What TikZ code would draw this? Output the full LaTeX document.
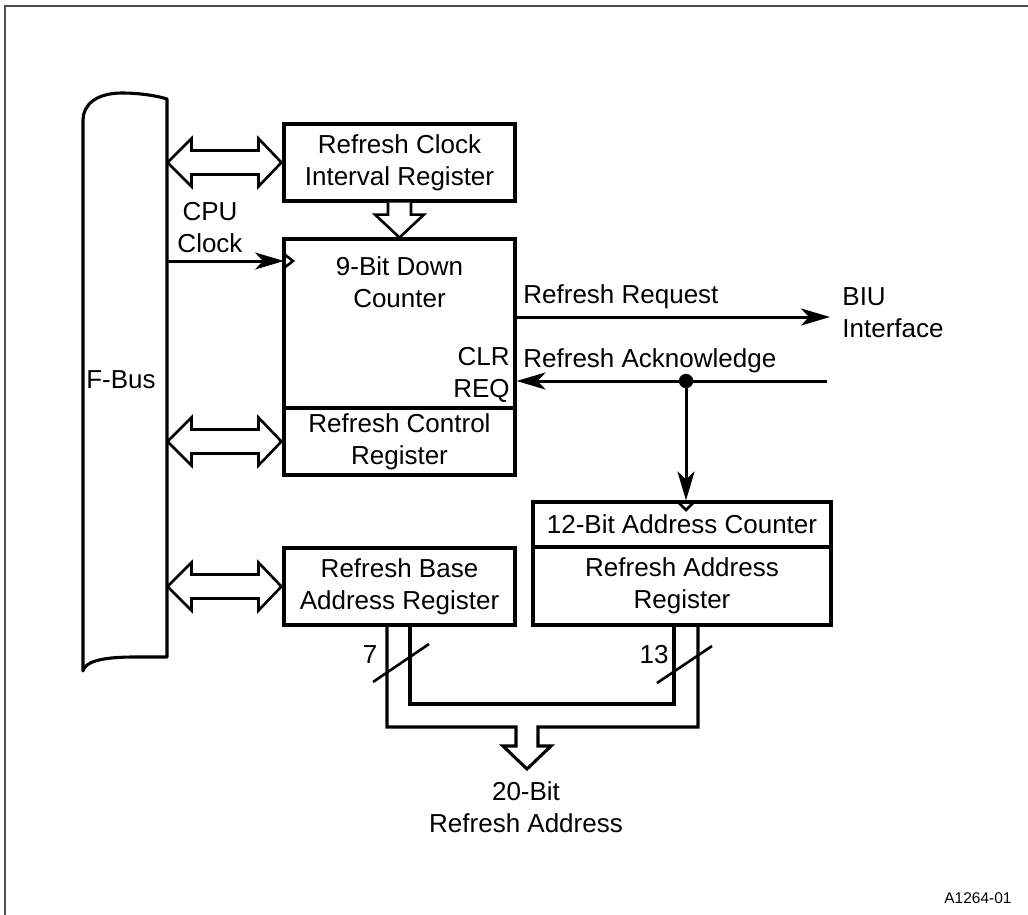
\documentclass[tikz,border=0pt]{standalone}
\usepackage{fontspec}
\setmainfont{Liberation Sans}
\usetikzlibrary{arrows.meta,calc}
\begin{document}
\begin{tikzpicture}[x=0.5pt,y=-0.5pt,
  font=\fontsize{13}{16}\selectfont,
  ln/.style={line width=1.55pt},
  box/.style={draw,line width=1.55pt,inner sep=0pt,minimum width=115.5pt},
  txt/.style={inner sep=0pt,align=center},
  hollow/.style={draw,line width=1.3pt,fill=white,line join=miter},
  arr/.style={line width=1.5pt,-{Stealth[length=14.5pt,width=8.5pt,inset=4pt]}},
  thin/.style={line width=1.3pt}]
\useasboundingbox (0,0) rectangle (1028,915);
% frame
\draw[black!70,line width=0.9pt] (5,915) -- (5,6) -- (1028,6);
% F-Bus
\draw[ln,line join=round] (167,657) -- (167,99)
  .. controls (158,96) and (140,93) .. (122,93)
  .. controls (96,93) and (83,105) .. (83,120)
  -- (83,671)
  .. controls (85,662) and (100,657) .. (135,657) -- cycle;
\node[txt] (fbus) at (121,380) {F-Bus};
\coordinate (busR) at (167,0);
% boxes
\node[box,minimum height=38.5pt] (cir) at (399.5,162.5) {};
\node[txt] (cirt) at (cir.center) {Refresh Clock\\Interval Register};
\node[box,minimum height=84.5pt] (cnt) at (399.5,323.5) {};
\node[txt] (cntt) at (399.5,282.5) {9-Bit Down\\Counter};
\node[box,minimum height=33.5pt] (ctl) at (399.5,441.5) {};
\node[txt] (ctlt) at (ctl.center) {Refresh Control\\Register};
\node[box,minimum height=38.5pt] (base) at (399.5,586.5) {};
\node[txt] (baset) at (base.center) {Refresh Base\\Address Register};
\node[box,minimum width=149pt,minimum height=22.5pt] (ac) at (682,524.5) {};
\node[txt] (act) at (ac.center) {12-Bit Address Counter};
\node[box,minimum width=149pt,minimum height=39pt] (ar) at (682,586) {};
\node[txt] (art) at (ar.center) {Refresh Address\\Register};
% hollow double arrows
\foreach \b in {cir,ctl,base}{
  \draw[hollow] ($(\b.west)+(-1,0)$) -- ++(-23,-24) -- ++(0,12) -- ++(-67,0) -- ++(0,-12)
    -- ++(-24,24) -- ++(24,24) -- ++(0,-12) -- ++(67,0) -- ++(0,12) -- cycle;
}
% hollow arrow cir -> counter
\draw[hollow] ($(cir.south)+(-11.5,0)$) -- ++(0,12) -- ++(-13,0) -- ++(24.5,23) -- ++(24.5,-23) -- ++(-13,0) -- ++(0,-12);
% CPU clock
\node[txt] (cpu) at (210,228) {CPU\\Clock};
\coordinate (clkin) at (284,261);
\draw[arr] (busR |- clkin) -- (clkin);
\draw[thin] (284,254) -- (293,261) -- (284,268);
% Refresh request
\node[txt,anchor=west,align=left] (biu) at (842,313) {BIU\\Interface};
\coordinate (reqend) at (830,317);
\draw[arr] (cnt.east |- reqend) -- (reqend);
\node[inner sep=0pt,anchor=base west] (reql) at (523,303) {Refresh Request};
% Refresh acknowledge
\coordinate (ackin) at (827,381);
\coordinate (dot) at (686,381);
\draw[arr] (ackin) -- (cnt.east |- ackin);
\node[inner sep=0pt,anchor=base west] (ackl) at (523,367) {Refresh Acknowledge};
\fill (dot) circle (3.6pt);
\draw[arr] (dot) -- (dot |- ac.north);
\draw[thin] (678,502) -- (686,510) -- (694,502);
\node[txt,align=right,anchor=east] (clr) at (510,375) {CLR\\REQ};
% bus merge
\draw[ln,line join=miter] (410,625) -- (410,704) -- (674,704) -- (674,625);
\draw[ln,line join=miter] (387,625) -- (387,727) -- (516,727) -- (516,746) -- (503,746)
  -- (527,769) -- (551,746) -- (538,746) -- (538,727) -- (698,727) -- (698,625);
\draw[thin] (373,682) -- (429,644);
\draw[thin] (657,683) -- (712,646);
\node[txt] (n7) at (370,655) {7};
\node[txt] (n13) at (654,655) {13};
\node[txt] (out) at (526,807) {20-Bit\\Refresh Address};
\node[txt,font=\fontsize{7.75}{9}\selectfont] (id) at (978,898) {A1264-01};
\end{tikzpicture}
\end{document}
